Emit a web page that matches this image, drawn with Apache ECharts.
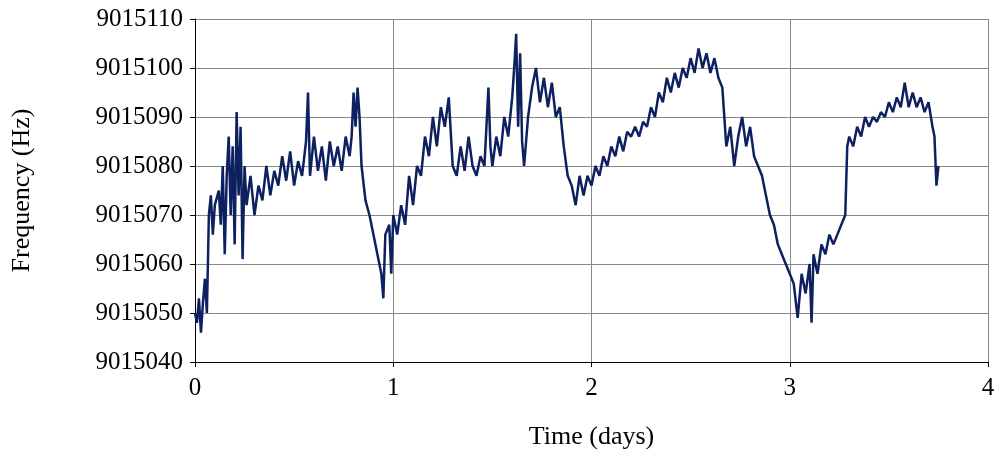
<!DOCTYPE html>
<html><head><meta charset="utf-8">
<script src="https://cdn.jsdelivr.net/npm/echarts@6/dist/echarts.min.js"></script>
<style>html,body{margin:0;padding:0;background:#fff}#c{width:1000px;height:467px}</style>
</head><body><div id="c"></div>
<script>
const times = [0.00,0.01,0.02,0.03,0.04,0.05,0.06,0.07,0.08,0.09,0.10,0.12,0.13,0.14,0.15,0.16,0.17,0.18,0.19,0.20,0.21,0.22,0.23,0.24,0.25,0.26,0.28,0.30,0.32,0.34,0.36,0.38,0.40,0.42,0.44,0.46,0.48,0.50,0.52,0.54,0.56,0.57,0.58,0.60,0.62,0.64,0.66,0.68,0.70,0.72,0.74,0.76,0.78,0.79,0.80,0.81,0.82,0.83,0.84,0.86,0.88,0.90,0.92,0.94,0.95,0.96,0.98,0.99,1.00,1.02,1.04,1.06,1.08,1.10,1.12,1.14,1.16,1.18,1.20,1.22,1.24,1.26,1.28,1.30,1.32,1.34,1.36,1.38,1.40,1.42,1.44,1.46,1.48,1.49,1.50,1.52,1.54,1.56,1.58,1.60,1.61,1.62,1.63,1.64,1.65,1.66,1.68,1.70,1.72,1.74,1.76,1.78,1.80,1.82,1.84,1.86,1.88,1.90,1.92,1.94,1.96,1.98,2.00,2.02,2.04,2.06,2.08,2.10,2.12,2.14,2.16,2.18,2.20,2.22,2.24,2.26,2.28,2.30,2.32,2.34,2.36,2.38,2.40,2.42,2.44,2.46,2.48,2.50,2.52,2.54,2.56,2.58,2.60,2.62,2.64,2.66,2.68,2.70,2.72,2.74,2.76,2.78,2.80,2.82,2.84,2.86,2.88,2.90,2.92,2.94,2.96,2.98,3.00,3.02,3.04,3.06,3.08,3.10,3.11,3.12,3.14,3.16,3.18,3.20,3.22,3.24,3.26,3.28,3.29,3.30,3.32,3.34,3.36,3.38,3.40,3.42,3.44,3.46,3.48,3.50,3.52,3.54,3.56,3.58,3.60,3.62,3.64,3.66,3.68,3.70,3.72,3.73,3.74,3.75];
const freqs = [9015050,9015048,9015053,9015046,9015052,9015057,9015050,9015070,9015074,9015066,9015072,9015075,9015068,9015080,9015062,9015078,9015086,9015070,9015084,9015064,9015091,9015074,9015088,9015061,9015080,9015072,9015078,9015070,9015076,9015073,9015080,9015074,9015079,9015076,9015082,9015077,9015083,9015076,9015081,9015078,9015085,9015095,9015078,9015086,9015079,9015084,9015077,9015085,9015080,9015084,9015079,9015086,9015082,9015086,9015095,9015088,9015096,9015090,9015080,9015073,9015070,9015066,9015062,9015058,9015053,9015066,9015068,9015058,9015070,9015066,9015072,9015068,9015078,9015072,9015080,9015078,9015086,9015082,9015090,9015084,9015092,9015088,9015094,9015080,9015078,9015084,9015079,9015086,9015080,9015078,9015082,9015080,9015096,9015084,9015080,9015086,9015082,9015090,9015086,9015094,9015100,9015107,9015088,9015103,9015085,9015080,9015090,9015096,9015100,9015093,9015098,9015092,9015097,9015090,9015092,9015084,9015078,9015076,9015072,9015078,9015074,9015078,9015076,9015080,9015078,9015082,9015080,9015084,9015082,9015086,9015083,9015087,9015086,9015088,9015086,9015089,9015088,9015092,9015090,9015095,9015093,9015098,9015095,9015099,9015096,9015100,9015098,9015102,9015099,9015104,9015100,9015103,9015099,9015102,9015098,9015096,9015084,9015088,9015080,9015086,9015090,9015084,9015088,9015082,9015080,9015078,9015074,9015070,9015068,9015064,9015062,9015060,9015058,9015056,9015049,9015058,9015054,9015060,9015048,9015062,9015058,9015064,9015062,9015066,9015064,9015066,9015068,9015070,9015084,9015086,9015084,9015088,9015086,9015090,9015088,9015090,9015089,9015091,9015090,9015093,9015091,9015094,9015092,9015097,9015092,9015095,9015092,9015094,9015091,9015093,9015088,9015086,9015076,9015080];
const data = times.map((t,i)=>[t,freqs[i]]);
const font = "Liberation Serif";
const chart = echarts.init(document.getElementById('c'));
chart.setOption({
  animation:false,
  grid:{left:195,right:12,top:19,bottom:105},
  xAxis:{type:'value',min:0,max:4,interval:1,name:'Time (days)',nameLocation:'middle',nameGap:62,
    nameTextStyle:{fontFamily:font,fontSize:26,color:'#000'},
    axisLine:{lineStyle:{color:'#000'}},axisTick:{show:true,length:5,lineStyle:{color:'#000'}},
    axisLabel:{fontFamily:font,fontSize:25,color:'#000',margin:14},
    splitLine:{show:true,lineStyle:{color:'#888',width:1}}},
  yAxis:{type:'value',min:9015040,max:9015110,interval:10,name:'Frequency (Hz)',nameLocation:'middle',nameGap:160,
    nameTextStyle:{fontFamily:font,fontSize:26,color:'#000'},
    axisLine:{show:true,lineStyle:{color:'#000'}},axisTick:{show:true,length:5,lineStyle:{color:'#000'}},
    axisLabel:{fontFamily:font,fontSize:25,color:'#000',margin:12,formatter:v=>String(v)},
    splitLine:{show:true,lineStyle:{color:'#888',width:1}}},
  series:[{type:'line',data:data,showSymbol:false,lineStyle:{color:'#0d2060',width:2.5},z:3}]
});
</script></body></html>
